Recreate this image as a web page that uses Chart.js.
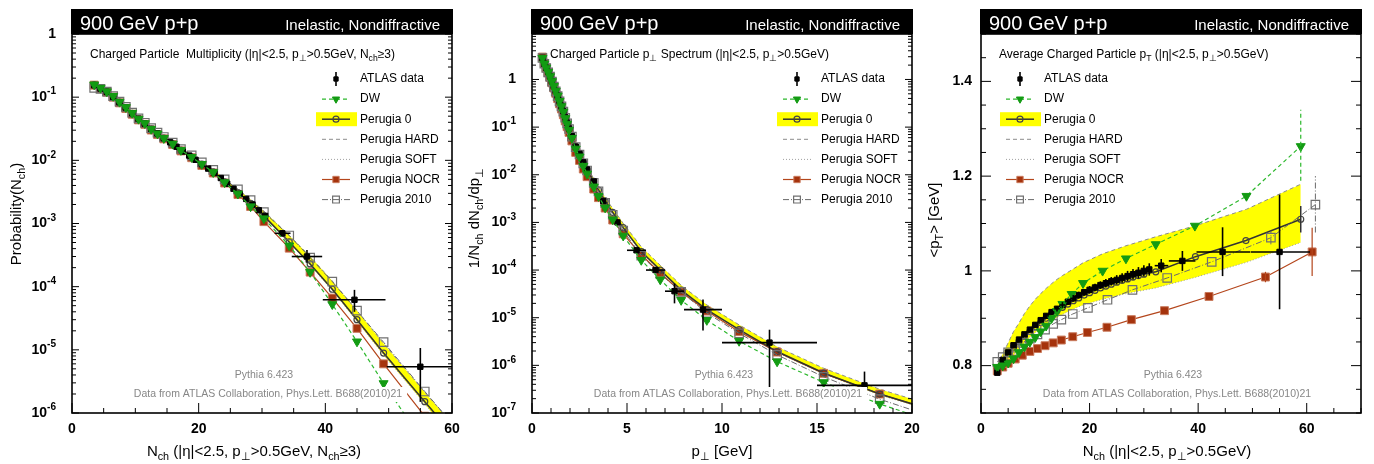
<!DOCTYPE html>
<html>
<head>
<meta charset="utf-8">
<title>900 GeV p+p - Pythia 6.423 vs ATLAS</title>
<script src="https://cdn.jsdelivr.net/npm/chart.js@4.4.1/dist/chart.umd.min.js"></script>
<style>
  html, body { margin: 0; padding: 0; background: #fff; }
  #wrap { position: relative; width: 1374px; height: 464px; overflow: hidden; }
  #wrap canvas { position: absolute; top: 0; }
</style>
</head>
<body>
<div id="wrap">
  <canvas id="c1" width="470" height="464" style="left:0"></canvas>
  <canvas id="c2" width="470" height="464" style="left:458px"></canvas>
  <canvas id="c3" width="458" height="464" style="left:916px"></canvas>
</div>
<script>
/* 900 GeV p+p · Pythia 6.423 tunes vs ATLAS minimum bias (PLB 688 (2010) 21) */
var FONT = '"Liberation Sans", Arial, Helvetica, sans-serif';

var headLeft = '900 GeV p+p';
var headRight = 'Inelastic, Nondiffractive';
var notePythia = 'Pythia 6.423';
var noteData = 'Data from ATLAS Collaboration, Phys.Lett. B688(2010)21';
var legendNames = ['ATLAS data', 'DW', 'Perugia 0', 'Perugia HARD', 'Perugia SOFT', 'Perugia NOCR', 'Perugia 2010'];

// ---------- panel 1 : charged multiplicity ----------
var multX    = [3.5, 4.5, 5.5, 6.5, 7.5, 8.5, 9.5, 10.5, 11.5, 12.5, 13.5, 14.5, 15.9, 17.2, 18.9, 20.5, 22.3, 24.1, 26.2, 28.2, 30.3, 34.3, 37.6, 41.1, 45, 49.2, 55.7, 62];
var multDW   = [0.158, 0.14, 0.123, 0.104, 0.0841, 0.0692, 0.0562, 0.0452, 0.0385, 0.0313, 0.0264, 0.0224, 0.0182, 0.0145, 0.0112, 0.0087, 0.00646, 0.00447, 0.00295, 0.00186, 0.0012, 4.47e-4, 1.7e-4, 5.25e-5, 1.35e-5, 2.95e-6, 3.2e-7, 5e-8];
var multP0   = [0.156, 0.138, 0.122, 0.102, 0.0832, 0.0681, 0.0556, 0.0447, 0.038, 0.0309, 0.0263, 0.0224, 0.0182, 0.0145, 0.0112, 0.0087, 0.0066, 0.00457, 0.00309, 0.00209, 0.00132, 5.1e-4, 2.29e-4, 9.1e-5, 3.0e-5, 8.9e-6, 1.51e-6, 2.8e-7];
var multHard = [0.151, 0.135, 0.12, 0.101, 0.0832, 0.0684, 0.0562, 0.0457, 0.0389, 0.032, 0.0272, 0.0234, 0.0193, 0.0155, 0.0121, 0.0094, 0.0072, 0.00505, 0.00347, 0.0024, 0.00158, 6.46e-4, 3.02e-4, 1.23e-4, 4.17e-5, 1.26e-5, 2.14e-6, 4e-7];
var multSoft = [0.158, 0.14, 0.123, 0.103, 0.0832, 0.0679, 0.0552, 0.0442, 0.0376, 0.0305, 0.026, 0.0219, 0.0178, 0.0141, 0.011, 0.00841, 0.0063, 0.00437, 0.00295, 0.002, 0.00126, 5.0e-4, 2.19e-4, 8.7e-5, 2.82e-5, 8.3e-6, 1.4e-6, 2.2e-7];
var multNocr = [0.155, 0.136, 0.12, 0.1, 0.0813, 0.0661, 0.0537, 0.0437, 0.0372, 0.0302, 0.0257, 0.0219, 0.0178, 0.0141, 0.011, 0.0083, 0.0063, 0.00437, 0.00288, 0.00186, 0.00107, 4.07e-4, 1.7e-4, 6.6e-5, 2.19e-5, 6.0e-6, 8.9e-7, 1e-7];
var mult2010 = [0.14, 0.135, 0.122, 0.104, 0.0851, 0.07, 0.0569, 0.0462, 0.0394, 0.0324, 0.0275, 0.0234, 0.0191, 0.0151, 0.012, 0.0093, 0.00708, 0.00501, 0.00347, 0.00234, 0.00151, 6.46e-4, 2.88e-4, 1.2e-4, 4.17e-5, 1.32e-5, 2.19e-6, 4e-7];
var multAtlasX = [3.5, 4.5, 5.5, 6.5, 7.5, 8.5, 9.5, 10.5, 11.5, 12.5, 13.5, 14.5, 15.5, 16.5, 17.5, 18.5, 19.5, 20.5, 21.5, 22.5, 23.5, 24.5, 25.5, 26.5, 27.5, 28.5, 29.5, 30.5];
var multAtlasY = [0.155, 0.137, 0.121, 0.101, 0.0832, 0.0684, 0.0556, 0.0457, 0.038, 0.0316, 0.0266, 0.0224, 0.0193, 0.0164, 0.0138, 0.0119, 0.0102, 0.0087, 0.0074, 0.0063, 0.00525, 0.00427, 0.00355, 0.00295, 0.00245, 0.002, 0.00162, 0.00132];
var multWideX   = [33.2, 37.1, 44.6, 55];
var multWideY   = [7.0e-4, 3.0e-4, 6.2e-5, 5.4e-6];
var multWideXLo = [32, 34.7, 39.6, 49.7];
var multWideXHi = [34.5, 39.5, 49.5, 60];
var multWideYLo = [6.2e-4, 2.4e-4, 4.0e-5, 1.5e-6];
var multWideYHi = [7.9e-4, 3.8e-4, 8.9e-5, 1.07e-5];
var multXTicks  = [0, 20, 40, 60];
var multYTicks  = [1e-6, 1e-5, 1e-4, 1e-3, 1e-2, 1e-1, 1];
var multYLabels = ['10^{-6}', '10^{-5}', '10^{-4}', '10^{-3}', '10^{-2}', '10^{-1}', '1'];

// ---------- panel 2 : pT spectrum ----------
var specX    = [0.55, 0.65, 0.75, 0.85, 0.95, 1.05, 1.15, 1.25, 1.35, 1.45, 1.55, 1.65, 1.75, 1.85, 1.95, 2.1, 2.3, 2.5, 2.7, 2.9, 3.25, 3.5, 3.85, 4.25, 4.8, 5.75, 6.75, 7.85, 9.2, 10.9, 12.9, 15.35, 18.3, 22];
var specDW   = [2.82, 2.14, 1.76, 1.43, 1.16, 0.916, 0.724, 0.575, 0.457, 0.352, 0.272, 0.209, 0.153, 0.117, 0.0871, 0.0589, 0.0351, 0.024, 0.0153, 0.0105, 0.00562, 0.00355, 0.00204, 0.00115, 5.25e-4, 1.62e-4, 6.3e-5, 2.34e-5, 8.9e-6, 3.24e-6, 1.2e-6, 4.4e-7, 1.55e-7, 5e-8];
var specP0   = [2.82, 2.14, 1.76, 1.43, 1.16, 0.916, 0.724, 0.575, 0.457, 0.355, 0.279, 0.216, 0.16, 0.123, 0.0933, 0.0646, 0.0389, 0.0275, 0.0182, 0.0129, 0.00724, 0.00479, 0.00282, 0.00162, 7.76e-4, 2.45e-4, 1.0e-4, 3.8e-5, 1.48e-5, 5.6e-6, 1.95e-6, 6.9e-7, 2.5e-7, 8.9e-8];
var specHard = [2.82, 2.14, 1.76, 1.43, 1.16, 0.916, 0.724, 0.575, 0.457, 0.355, 0.279, 0.216, 0.164, 0.126, 0.0977, 0.0676, 0.0417, 0.0302, 0.0204, 0.0145, 0.00832, 0.00562, 0.00331, 0.00195, 9.55e-4, 3.09e-4, 1.26e-4, 4.79e-5, 1.86e-5, 7.08e-6, 2.45e-6, 8.7e-7, 3.16e-7, 1.12e-7];
var specSoft = [2.82, 2.14, 1.76, 1.43, 1.16, 0.916, 0.724, 0.575, 0.457, 0.355, 0.279, 0.214, 0.158, 0.122, 0.0912, 0.0631, 0.038, 0.0266, 0.0176, 0.0124, 0.00692, 0.00457, 0.00269, 0.00155, 7.41e-4, 2.34e-4, 9.55e-5, 3.63e-5, 1.41e-5, 5.37e-6, 1.86e-6, 6.6e-7, 2.4e-7, 8.5e-8];
var specNocr = [2.95, 2.19, 1.74, 1.38, 1.1, 0.851, 0.661, 0.513, 0.398, 0.309, 0.24, 0.182, 0.135, 0.102, 0.0776, 0.0513, 0.0295, 0.02, 0.0132, 0.00912, 0.00501, 0.00331, 0.002, 0.00112, 5.75e-4, 2.09e-4, 8.7e-5, 3.47e-5, 1.38e-5, 5.1e-6, 1.9e-6, 6.8e-7, 2.5e-7, 8.9e-8];
var spec2010 = [2.82, 2.14, 1.74, 1.41, 1.15, 0.902, 0.708, 0.562, 0.447, 0.347, 0.272, 0.211, 0.157, 0.12, 0.0912, 0.0631, 0.038, 0.0266, 0.0174, 0.0123, 0.00676, 0.00447, 0.00257, 0.00145, 6.76e-4, 2.0e-4, 8.3e-5, 3.47e-5, 1.26e-5, 4.7e-6, 1.66e-6, 5.75e-7, 1.95e-7, 6.3e-8];
var specAtlasX = [0.55, 0.65, 0.75, 0.85, 0.95, 1.05, 1.15, 1.25, 1.35, 1.45, 1.55, 1.65, 1.75, 1.85, 1.95, 2.1, 2.3, 2.5, 2.7, 2.9, 3.25, 3.75, 4.5];
var specAtlasY = [2.82, 2.14, 1.76, 1.43, 1.16, 0.916, 0.724, 0.575, 0.457, 0.355, 0.279, 0.216, 0.16, 0.123, 0.0933, 0.0646, 0.0389, 0.0275, 0.0182, 0.0129, 0.00724, 0.0028, 0.001];
var specWideX   = [5.5, 6.5, 7.5, 9, 12.5, 17.5];
var specWideY   = [2.6e-4, 1.0e-4, 3.6e-5, 1.48e-5, 3.0e-6, 3.8e-7];
var specWideXLo = [5, 6, 7, 8, 10, 15];
var specWideXHi = [6, 7, 8, 10, 15, 20];
var specWideYLo = [2.3e-4, 8.7e-5, 2.0e-5, 5.4e-6, 3.3e-7, 1.7e-7];
var specWideYHi = [2.9e-4, 1.15e-4, 5.2e-5, 2.4e-5, 5.6e-6, 7.4e-7];
var specXTicks  = [0, 5, 10, 15, 20];
var specYTicks  = [1e-7, 1e-6, 1e-5, 1e-4, 1e-3, 1e-2, 1e-1, 1];
var specYLabels = ['10^{-7}', '10^{-6}', '10^{-5}', '10^{-4}', '10^{-3}', '10^{-2}', '10^{-1}', '1'];

// ---------- panel 3 : <pT> vs Nch ----------
var meanBandX = [3, 4, 5, 6, 7, 8, 9, 10, 11, 12, 13, 14, 15, 16.7, 18.8, 22.4, 26.7, 32.2, 39.4, 48.9, 58.9];
var meanDW    = [0.797, 0.80, 0.806, 0.815, 0.828, 0.84, 0.85, 0.86, 0.872, 0.884, 0.9, 0.915, 0.93, 0.951, 0.974, 1.0, 1.026, 1.056, 1.095, 1.158, 1.263];
var meanHard  = [0.80, 0.825, 0.848, 0.872, 0.89, 0.91, 0.926, 0.94, 0.952, 0.963, 0.973, 0.982, 0.99, 1.002, 1.017, 1.036, 1.053, 1.072, 1.095, 1.13, 1.183];
var meanSoft  = [0.80, 0.805, 0.812, 0.822, 0.835, 0.848, 0.86, 0.87, 0.879, 0.887, 0.895, 0.902, 0.908, 0.918, 0.928, 0.94, 0.952, 0.964, 0.986, 1.018, 1.06];
var meanP0X   = [3, 4, 5, 6, 7, 8, 9, 10, 11, 12, 13, 14, 15, 16, 17, 18, 19, 20, 21, 22, 23, 24, 25, 26, 27, 28, 29, 30, 32.2, 39.5, 48.8, 58.9];
var meanP0    = [0.795, 0.81, 0.825, 0.839, 0.851, 0.862, 0.872, 0.882, 0.891, 0.9, 0.908, 0.916, 0.923, 0.93, 0.937, 0.943, 0.949, 0.954, 0.959, 0.964, 0.968, 0.972, 0.976, 0.98, 0.983, 0.987, 0.99, 0.993, 0.998, 1.03, 1.064, 1.109];
var mean2010X = [3, 4, 5, 6.3, 7.6, 9, 10.4, 11.8, 13.3, 14.8, 16.9, 19.7, 23.3, 27.9, 34.3, 42.5, 53.4, 61.6];
var mean2010  = [0.808, 0.818, 0.828, 0.838, 0.848, 0.857, 0.866, 0.876, 0.888, 0.897, 0.909, 0.922, 0.939, 0.96, 0.985, 1.019, 1.07, 1.14];
var meanNocrX = [3, 4, 5, 6.3, 7.6, 9, 10.4, 11.8, 13.3, 14.8, 16.9, 19.6, 23.2, 27.7, 33.8, 42, 52.4, 61];
var meanNocr  = [0.789, 0.797, 0.805, 0.814, 0.822, 0.83, 0.836, 0.842, 0.848, 0.854, 0.861, 0.87, 0.881, 0.897, 0.916, 0.946, 0.987, 1.04];
var meanAtlasX = [3, 4, 5, 6, 7, 8, 9, 10, 11, 12, 13, 14, 15, 16, 17, 18, 19, 20, 21, 22, 23, 24, 25, 26, 27, 28, 29, 30, 31];
var meanAtlasY = [0.785, 0.812, 0.828, 0.843, 0.855, 0.866, 0.876, 0.886, 0.896, 0.905, 0.913, 0.92, 0.928, 0.935, 0.942, 0.949, 0.955, 0.96, 0.965, 0.97, 0.974, 0.978, 0.981, 0.985, 0.989, 0.993, 0.996, 1.0, 1.003];
var meanAtlasYErr = [0.004, 0.004, 0.004, 0.004, 0.004, 0.005, 0.005, 0.005, 0.005, 0.005, 0.006, 0.006, 0.006, 0.006, 0.007, 0.007, 0.007, 0.008, 0.008, 0.008, 0.009, 0.009, 0.01, 0.01, 0.011, 0.011, 0.012, 0.012, 0.013];
var meanAtlasBinHalf = 0.5;
var meanWideX   = [33.2, 37.1, 44.5, 55];
var meanWideY   = [1.011, 1.021, 1.04, 1.04];
var meanWideXLo = [32, 34.6, 39.7, 49.7];
var meanWideXHi = [34.5, 39.5, 49.6, 60.6];
var meanWideYLo = [0.997, 1.0, 0.989, 0.919];
var meanWideYHi = [1.025, 1.042, 1.092, 1.161];
var meanDWErrX = [58.9],         meanDWErrLo = [1.19],           meanDWErrHi = [1.34];
var meanP0ErrX = [58.9],         meanP0ErrLo = [1.081],          meanP0ErrHi = [1.137];
var mean2010ErrX = [53.4, 61.6], mean2010ErrLo = [1.056, 1.081], mean2010ErrHi = [1.084, 1.2];
var meanNocrErrX = [52.4, 61],   meanNocrErrLo = [0.976, 0.989], meanNocrErrHi = [0.998, 1.091];
var meanXTicks  = [0, 20, 40, 60];
var meanYTicks  = [0.8, 1, 1.2, 1.4];
var meanYLabels = ['0.8', '1', '1.2', '1.4'];

// ---------- styles ----------
var STYLE = {
    atlas: { line: false, shape: 'rect', radius: 3.8, fill: '#000', stroke: '#000', sw: 1 },
    dw:    { lineColor: '#2cb82c', width: 1.2, dash: [4, 3], shape: 'triangle', rot: 180, radius: 5.2, fill: '#139b13', stroke: '#139b13', sw: 1 },
    p0:    { lineColor: '#333', width: 1.5, shape: 'circle', radius: 3, fill: 'rgba(255,255,255,0)', stroke: '#444', sw: 1.2 },
    hard:  { lineColor: '#8c8c8c', width: 1, dash: [4, 3] },
    soft:  { lineColor: '#a0a0a0', width: 1, dash: [1, 2] },
    nocr:  { lineColor: '#b4461c', width: 1.2, shape: 'rect', radius: 5.6, fill: '#a5330d', stroke: '#c97a5c', sw: 1 },
    p2010: { lineColor: '#6a6a6a', width: 1, dash: [6, 2, 1, 2], shape: 'rect', radius: 6, fill: 'rgba(255,255,255,0)', stroke: '#707070', sw: 1.2 }
};
var LEGEND_KEYS = ['atlas', 'dw', 'p0', 'hard', 'soft', 'nocr', 'p2010'];

function pts(xs, ys) { return xs.map(function (x, i) { return { x: x, y: ys[i] }; }); }

function lineSet(label, xs, ys, st) {
    return {
        label: label,
        data: pts(xs, ys),
        showLine: st.line !== false,
        borderColor: st.lineColor || '#000',
        borderWidth: st.width || 1,
        borderDash: st.dash || [],
        backgroundColor: 'rgba(0,0,0,0)',
        fill: false,
        tension: 0,
        pointStyle: st.shape || false,
        pointRadius: st.shape ? st.radius : 0,
        pointRotation: st.rot || 0,
        pointBackgroundColor: st.fill || 'rgba(0,0,0,0)',
        pointBorderColor: st.stroke || 'rgba(0,0,0,0)',
        pointBorderWidth: st.sw || 1
    };
}

// text with _{sub} and ^{sup}
function rich(ctx, str, x, y, size, o) {
    o = o || {};
    var segs = [], buf = '', i = 0;
    while (i < str.length) {
        var c = str.charAt(i);
        if ((c === '_' || c === '^') && str.charAt(i + 1) === '{') {
            if (buf) { segs.push({ t: buf, m: 0 }); buf = ''; }
            var j = str.indexOf('}', i);
            segs.push({ t: str.slice(i + 2, j), m: c === '_' ? 1 : 2 });
            i = j + 1;
        } else { buf += c; i++; }
    }
    if (buf) segs.push({ t: buf, m: 0 });
    var wt = o.weight || 'normal', total = 0;
    segs.forEach(function (g) {
        g.size = g.m ? size * 0.72 : size;
        ctx.font = wt + ' ' + g.size + 'px ' + FONT;
        g.w = ctx.measureText(g.t).width;
        total += g.w;
    });
    ctx.save();
    ctx.translate(x, y);
    if (o.rot) ctx.rotate(o.rot);
    ctx.fillStyle = o.color || '#000';
    ctx.textBaseline = 'middle';
    ctx.textAlign = 'left';
    var cx = o.align === 'center' ? -total / 2 : (o.align === 'right' ? -total : 0);
    segs.forEach(function (g) {
        ctx.font = wt + ' ' + g.size + 'px ' + FONT;
        var dy = g.m === 1 ? size * 0.32 : (g.m === 2 ? -size * 0.4 : 0);
        ctx.fillText(g.t, cx, dy);
        cx += g.w;
    });
    ctx.restore();
    return total;
}

function marker(ctx, st, x, y) {
    if (!st.shape) return;
    var r = st.radius, s;
    ctx.beginPath();
    if (st.shape === 'circle') ctx.arc(x, y, r, 0, Math.PI * 2);
    else if (st.shape === 'rect') { s = r * Math.SQRT1_2; ctx.rect(x - s, y - s, 2 * s, 2 * s); }
    else { ctx.moveTo(x, y + r); ctx.lineTo(x - r * 0.866, y - r / 2); ctx.lineTo(x + r * 0.866, y - r / 2); ctx.closePath(); }
    ctx.fillStyle = st.fill; ctx.fill();
    ctx.lineWidth = st.sw || 1; ctx.strokeStyle = st.stroke; ctx.stroke();
}

function seg(ctx, x1, y1, x2, y2) { ctx.beginPath(); ctx.moveTo(x1, y1); ctx.lineTo(x2, y2); ctx.stroke(); }

function drawErrors(c, p) {
    var ctx = c.ctx, a = c.chartArea, xs = c.scales.x, ys = c.scales.y;
    ctx.save();
    ctx.beginPath(); ctx.rect(a.left, a.top, a.right - a.left, a.bottom - a.top); ctx.clip();
    (p.mcErr || []).forEach(function (e) {
        var st = STYLE[e.key];
        ctx.strokeStyle = st.lineColor; ctx.lineWidth = st.width; ctx.setLineDash(st.dash || []);
        e.x.forEach(function (x, i) {
            var px = xs.getPixelForValue(x);
            seg(ctx, px, ys.getPixelForValue(e.lo[i]), px, ys.getPixelForValue(e.hi[i]));
        });
    });
    ctx.setLineDash([]);
    ctx.strokeStyle = '#000'; ctx.lineWidth = 1.6;
    if (p.atlasYErr) {
        p.atlasX.forEach(function (x, i) {
            var y = p.atlasY[i], e = p.atlasYErr[i], px = xs.getPixelForValue(x), py = ys.getPixelForValue(y);
            seg(ctx, px, ys.getPixelForValue(y - e), px, ys.getPixelForValue(y + e));
            seg(ctx, xs.getPixelForValue(x - p.atlasXHalf), py, xs.getPixelForValue(x + p.atlasXHalf), py);
        });
    }
    p.wideX.forEach(function (x, i) {
        var px = xs.getPixelForValue(x), py = ys.getPixelForValue(p.wideY[i]);
        seg(ctx, xs.getPixelForValue(p.wideXLo[i]), py, xs.getPixelForValue(p.wideXHi[i]), py);
        seg(ctx, px, ys.getPixelForValue(p.wideYLo[i]), px, ys.getPixelForValue(p.wideYHi[i]));
    });
    ctx.restore();
}

function drawNotes(c) {
    var ctx = c.ctx, a = c.chartArea, cx = a.left + 196;
    ctx.save();
    ctx.font = '10.5px ' + FONT;
    var w = ctx.measureText(noteData).width;
    ctx.fillStyle = '#fff';
    ctx.fillRect(cx - w / 2 - 3, 387, w + 8, 15);
    ctx.restore();
    rich(ctx, notePythia, a.left + 192, 375, 10.5, { align: 'center', color: '#878787' });
    rich(ctx, noteData, cx, 394, 10.5, { align: 'center', color: '#878787' });
}

function drawLegend(c, p) {
    var ctx = c.ctx, L = c.chartArea.left + p.legendL;
    LEGEND_KEYS.forEach(function (k, i) {
        var y = 79 + i * 20.1, st = STYLE[k], cx = L + 14;
        ctx.save();
        if (k === 'p0') { ctx.fillStyle = '#ffff00'; ctx.fillRect(L - 6, y - 7, 41, 14); }
        if (k === 'atlas') {
            ctx.strokeStyle = '#000'; ctx.lineWidth = 1.6;
            seg(ctx, cx, y - 7, cx, y + 7);
        } else {
            ctx.strokeStyle = st.lineColor; ctx.lineWidth = st.width; ctx.setLineDash(st.dash || []);
            seg(ctx, L, y, L + 28, y);
            ctx.setLineDash([]);
        }
        marker(ctx, {
            shape: st.shape, radius: st.shape === 'circle' ? st.radius : st.radius * 0.8,
            fill: st.fill, stroke: st.stroke, sw: st.sw
        }, cx, y);
        ctx.restore();
        rich(ctx, legendNames[i], L + 38, y, 12);
    });
}

function drawAxes(c, p) {
    var ctx = c.ctx, a = c.chartArea, xs = c.scales.x, ys = c.scales.y, i, n, v;
    ctx.save();
    ctx.strokeStyle = '#000';
    ctx.lineWidth = 1;
    n = Math.round((p.x.max - p.x.min) / p.x.minor);
    for (i = 0; i <= n; i++) {
        v = p.x.min + i * p.x.minor;
        var isMaj = p.x.ticks.some(function (t) { return Math.abs(t - v) < 1e-6; });
        var px = xs.getPixelForValue(v);
        seg(ctx, px, a.bottom, px, a.bottom - (isMaj ? 10 : 5));
    }
    var yt = [];
    if (p.y.type === 'logarithmic') {
        for (var e = Math.round(Math.log10(p.y.min)); e <= Math.ceil(Math.log10(p.y.max)); e++) {
            for (var k = 1; k <= 9; k++) {
                v = k * Math.pow(10, e);
                if (v >= p.y.min * 0.999 && v <= p.y.max * 1.001) yt.push([v, k === 1]);
            }
        }
    } else {
        n = Math.round((p.y.max - p.y.min) / p.y.minor);
        for (i = 0; i <= n; i++) {
            v = p.y.min + i * p.y.minor;
            yt.push([v, p.y.ticks.some(function (t) { return Math.abs(t - v) < 1e-6; })]);
        }
    }
    yt.forEach(function (t) {
        var py = ys.getPixelForValue(t[0]), len = t[1] ? p.y.majorLen : p.y.minorLen;
        seg(ctx, a.left, py, a.left + len, py);
        seg(ctx, a.right, py, a.right - len, py);
    });
    ctx.lineWidth = 1.6;
    ctx.strokeRect(a.left, a.top, a.right - a.left, a.bottom - a.top);
    ctx.restore();
    p.x.ticks.forEach(function (t) {
        rich(ctx, String(t), xs.getPixelForValue(t), a.bottom + 16, 14, { align: 'center', weight: 'bold' });
    });
    p.y.ticks.forEach(function (t, j) {
        rich(ctx, p.y.labels[j], a.left - p.y.gap, ys.getPixelForValue(t), 14, { align: 'right', weight: 'bold' });
    });
}

function drawTitles(c, p) {
    var ctx = c.ctx, a = c.chartArea;
    ctx.save();
    ctx.fillStyle = '#000';
    ctx.fillRect(a.left - 1, 9, a.right - a.left + 2, 25);
    ctx.fillStyle = '#fff';
    ctx.textBaseline = 'alphabetic';
    ctx.font = '20px ' + FONT; ctx.textAlign = 'left';
    ctx.fillText(headLeft, a.left + 8, 29.5);
    ctx.font = '15px ' + FONT; ctx.textAlign = 'right';
    ctx.fillText(headRight, a.right - 12, 29.5);
    ctx.restore();
    rich(ctx, p.title, a.left + 18, 55, 12);
    rich(ctx, p.xTitle, p.xTitleX, 452, 15, { align: 'center' });
    rich(ctx, p.yTitle, p.yTitleX, p.yTitleY, 15, { align: 'center', rot: -Math.PI / 2 });
}

function makePanel(p) {
    // first in the list is drawn on top
    var ds = [
        lineSet('DW', p.dwX, p.dw, STYLE.dw),
        lineSet('ATLAS data', p.wideX, p.wideY, STYLE.atlas),
        lineSet('ATLAS data', p.atlasX, p.atlasY, STYLE.atlas),
        lineSet('Perugia 2010', p.p2010X, p.p2010, STYLE.p2010),
        lineSet('Perugia 0', p.p0X, p.p0, STYLE.p0),
        lineSet('Perugia NOCR', p.nocrX, p.nocr, STYLE.nocr),
        lineSet('Perugia SOFT', p.bandX, p.soft, STYLE.soft),
        lineSet('Perugia HARD', p.bandX, p.hard, STYLE.hard)
    ];
    // yellow band between HARD and SOFT
    ds[7].fill = { target: 6, above: '#ffff00', below: '#ffff00' };
    ds[7].backgroundColor = '#ffff00';

    return new Chart(document.getElementById(p.id), {
        type: 'line',
        data: { datasets: ds },
        options: {
            responsive: false,
            animation: false,
            events: [],
            layout: { autoPadding: false, padding: { top: 34, left: 0, right: p.W - p.right, bottom: 0 } },
            plugins: { legend: { display: false }, tooltip: { enabled: false } },
            scales: {
                x: {
                    type: 'linear', min: p.x.min, max: p.x.max,
                    ticks: { display: false }, grid: { display: false }, border: { display: false },
                    afterFit: function (s) { s.height = 464 - 413; }
                },
                y: {
                    type: p.y.type, min: p.y.min, max: p.y.max,
                    ticks: { display: false }, grid: { display: false }, border: { display: false },
                    afterFit: function (s) { s.width = p.left; }
                }
            }
        },
        plugins: [{
            id: 'decor',
            afterDatasetsDraw: function (c) { drawErrors(c, p); drawNotes(c); drawLegend(c, p); },
            afterDraw: function (c) { drawAxes(c, p); drawTitles(c, p); }
        }]
    });
}

makePanel({
    id: 'c1', W: 470, left: 72, right: 452,
    x: { min: 0, max: 60, ticks: multXTicks, minor: 5 },
    y: { type: 'logarithmic', min: 1e-6, max: 1, ticks: multYTicks, labels: multYLabels, gap: 16, majorLen: 7, minorLen: 4 },
    atlasX: multAtlasX, atlasY: multAtlasY,
    wideX: multWideX, wideY: multWideY, wideXLo: multWideXLo, wideXHi: multWideXHi, wideYLo: multWideYLo, wideYHi: multWideYHi,
    dwX: multX, dw: multDW, p0X: multX, p0: multP0, p2010X: multX, p2010: mult2010,
    nocrX: multX, nocr: multNocr, bandX: multX, hard: multHard, soft: multSoft,
    title: 'Charged Particle  Multiplicity (|η|<2.5, p_{⊥}>0.5GeV, N_{ch}≥3)',
    xTitle: 'N_{ch} (|η|<2.5, p_{⊥}>0.5GeV, N_{ch}≥3)', xTitleX: 254,
    yTitle: 'Probability(N_{ch})', yTitleX: 17, yTitleY: 214,
    legendL: 250
});

makePanel({
    id: 'c2', W: 470, left: 74, right: 454,
    x: { min: 0, max: 20, ticks: specXTicks, minor: 1 },
    y: { type: 'logarithmic', min: 1e-7, max: 9, ticks: specYTicks, labels: specYLabels, gap: 16, majorLen: 7, minorLen: 4 },
    atlasX: specAtlasX, atlasY: specAtlasY,
    wideX: specWideX, wideY: specWideY, wideXLo: specWideXLo, wideXHi: specWideXHi, wideYLo: specWideYLo, wideYHi: specWideYHi,
    dwX: specX, dw: specDW, p0X: specX, p0: specP0, p2010X: specX, p2010: spec2010,
    nocrX: specX, nocr: specNocr, bandX: specX, hard: specHard, soft: specSoft,
    title: 'Charged Particle p_{⊥} Spectrum (|η|<2.5, p_{⊥}>0.5GeV)',
    xTitle: 'p_{⊥} [GeV]', xTitleX: 264,
    yTitle: '1/N_{ch} dN_{ch}/dp_{⊥}', yTitleX: 17, yTitleY: 218,
    legendL: 251
});

makePanel({
    id: 'c3', W: 458, left: 65, right: 445,
    x: { min: 0, max: 70, ticks: meanXTicks, minor: 5 },
    y: { type: 'linear', min: 0.7, max: 1.5, ticks: meanYTicks, labels: meanYLabels, minor: 0.05, gap: 9, majorLen: 10, minorLen: 5 },
    atlasX: meanAtlasX, atlasY: meanAtlasY, atlasYErr: meanAtlasYErr, atlasXHalf: meanAtlasBinHalf,
    wideX: meanWideX, wideY: meanWideY, wideXLo: meanWideXLo, wideXHi: meanWideXHi, wideYLo: meanWideYLo, wideYHi: meanWideYHi,
    dwX: meanBandX, dw: meanDW, p0X: meanP0X, p0: meanP0, p2010X: mean2010X, p2010: mean2010,
    nocrX: meanNocrX, nocr: meanNocr, bandX: meanBandX, hard: meanHard, soft: meanSoft,
    mcErr: [
        { key: 'dw', x: meanDWErrX, lo: meanDWErrLo, hi: meanDWErrHi },
        { key: 'p0', x: meanP0ErrX, lo: meanP0ErrLo, hi: meanP0ErrHi },
        { key: 'p2010', x: mean2010ErrX, lo: mean2010ErrLo, hi: mean2010ErrHi },
        { key: 'nocr', x: meanNocrErrX, lo: meanNocrErrLo, hi: meanNocrErrHi }
    ],
    title: 'Average Charged Particle p_{T} (|η|<2.5, p_{⊥}>0.5GeV)',
    xTitle: 'N_{ch} (|η|<2.5, p_{⊥}>0.5GeV)', xTitleX: 251,
    yTitle: '<p_{T}> [GeV]', yTitleX: 19, yTitleY: 220,
    legendL: 25
});
</script>
</body>
</html>
